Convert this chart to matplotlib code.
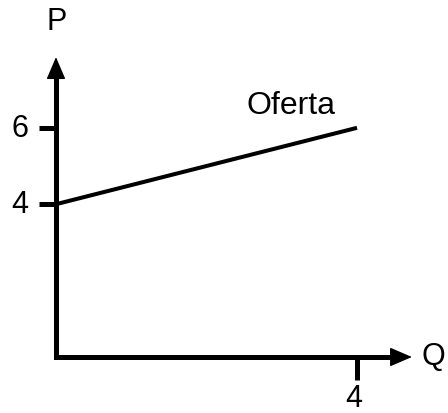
import numpy as np
import matplotlib.pyplot as plt

plt.rcParams['font.family'] = ['Liberation Sans', 'DejaVu Sans']

# --- Data: supply curve (Oferta) ---
q = [0, 4]
p = [4, 6]
y_ticks = [4, 6]
x_ticks = [4]

fig = plt.figure(figsize=(4.48, 4.14), dpi=100)
ax = fig.add_axes([0, 0, 1, 1])
ax.set_xlim(-0.744, 5.209)
ax.set_ylim(-1.466, 9.372)
ax.axis("off")

AX_LW = 3.6

# L-shaped axes
ax.plot([0, 0, 4.5], [7.4, 0, 0], color="black", lw=AX_LW,
        solid_joinstyle="miter", solid_capstyle="butt")
# arrow heads
arrow = dict(arrowstyle="-|>,head_length=14,head_width=6", mutation_scale=1,
             color="black", lw=1, shrinkA=0, shrinkB=0)
ax.annotate("", xy=(0, 7.85), xytext=(0, 7.0), arrowprops=arrow)
ax.annotate("", xy=(4.73, 0), xytext=(4.3, 0), arrowprops=arrow)

# ticks
for yt in y_ticks:
    ax.plot([-0.22, 0], [yt, yt], color="black", lw=AX_LW, solid_capstyle="butt")
    ax.text(-0.48, yt, str(yt), ha="center", va="center", fontsize=22)
for xt in x_ticks:
    ax.plot([xt, xt], [0, -0.6], color="black", lw=AX_LW, solid_capstyle="butt")
    ax.text(xt - 0.05, -1.27, str(xt), ha="center", va="baseline", fontsize=22)

# supply line
ax.plot(q, p, color="black", lw=2.9, solid_capstyle="butt")
ax.text(3.12, 6.6, "Oferta", ha="center", va="center", fontsize=23)

ax.text(0.01, 8.8, "P", ha="center", va="center", fontsize=22)
ax.text(5.01, 0.03, "Q", ha="center", va="center", fontsize=22)

fig.savefig("out.png", dpi=100)
